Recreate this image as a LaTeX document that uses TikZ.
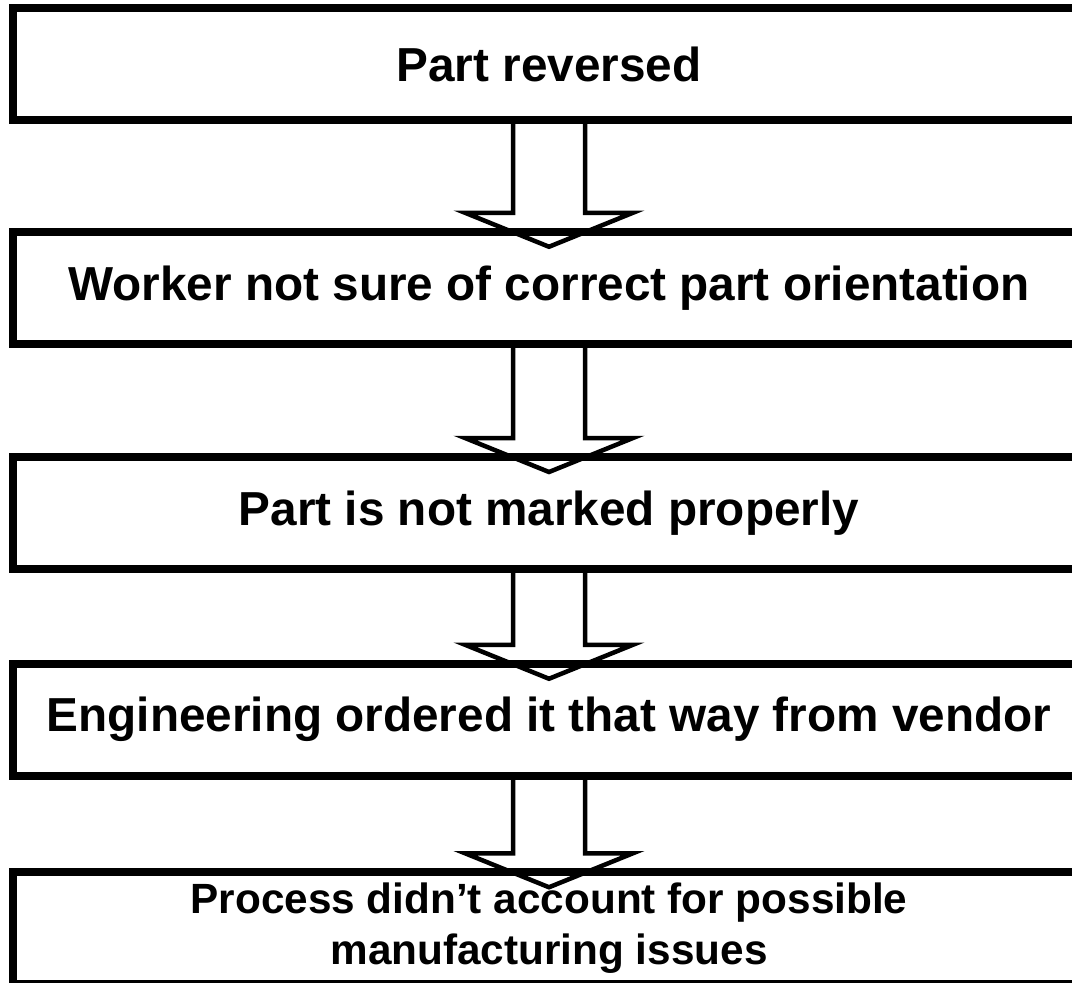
\documentclass[tikz,border=0pt]{standalone}
\usepackage{fontspec}
\setmainfont{Liberation Sans}
\usetikzlibrary{calc}
\tikzset{
  stepbox/.style={draw, line width=8pt, minimum width=1072pt, minimum height=112pt,
    inner sep=0pt, outer sep=0pt, align=center,
    font=\bfseries\fontsize{47.7}{52}\selectfont},
  smalltext/.style={font=\bfseries\fontsize{42.3}{51.5}\selectfont},
  flowarrow/.style={draw, line width=4.5pt, line join=miter}
}
\begin{document}
\begin{tikzpicture}[x=1pt,y=-1pt]
\useasboundingbox (0,0) rectangle (1072,983);
\clip (0,0) rectangle (1072,983);

% the chain of causes, top to bottom
\node[stepbox] (b1) at (549,64)     {Part reversed};
\node[stepbox] (b2) at (549,287.75) {Worker not sure of correct part orientation};
\node[stepbox] (b3) at (549,513)    {Part is not marked properly};
\node[stepbox] (b4) at (549,719.75) {Engineering ordered it that way from vendor};
\node[stepbox,smalltext] (b5) at (549,928.25) {Process didn’t account for possible\\manufacturing issues};

% hollow block arrows between consecutive boxes
\foreach \a/\b in {b1/b2,b2/b3,b3/b4,b4/b5}{
  \draw[flowarrow]
    ($(\a.south)+(-36,0)$) -- ($(\b.north)+(-36,-19)$) -- ($(\b.north)+(-84,-19)$)
    -- ($(\b.north)+(0,15)$)
    -- ($(\b.north)+(84,-19)$) -- ($(\b.north)+(36,-19)$) -- ($(\a.south)+(36,0)$);
}
\end{tikzpicture}
\end{document}
